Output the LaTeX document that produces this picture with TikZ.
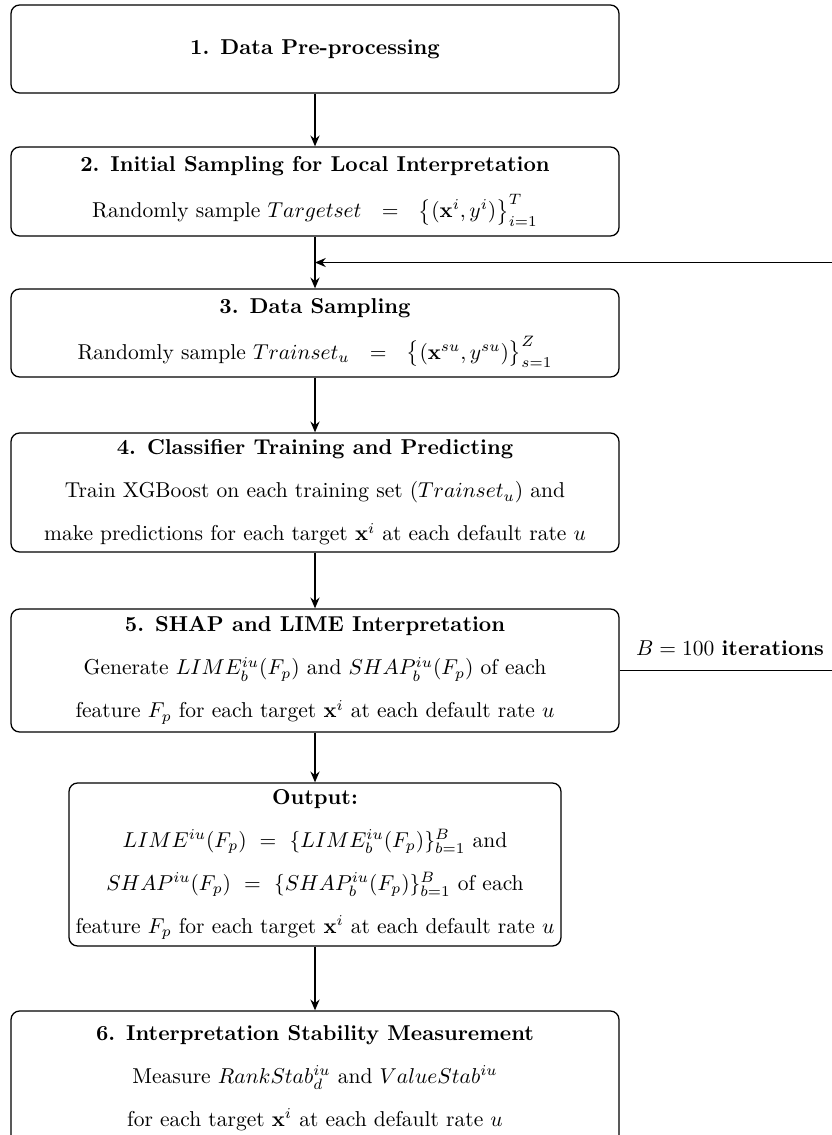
\documentclass[tikz,border=0pt]{standalone}
\usetikzlibrary{arrows.meta}
\newcommand{\pxu}{0.465pt}
\begin{document}
\begin{tikzpicture}[x=0.465pt,y=-0.465pt,
  box/.style={draw, rounded corners=4pt, line width=0.6pt, align=center,
    inner sep=0pt, minimum width=608*\pxu},
  flow/.style={-{Stealth[length=5pt,width=4.2pt]}, line width=0.85pt}]
\useasboundingbox (0,0) rectangle (831,1135);

% process steps
\node[box, minimum height=88*\pxu] (b1) at (315,49)
  {\textbf{1. Data Pre-processing}};
\node[box, minimum height=89*\pxu] (b2) at (315,191.5)
  {\textbf{2. Initial Sampling for Local Interpretation}\\[7.4pt]
   Randomly sample $Targetset\ \ =\ \ \big\{(\mathbf{x}^i,y^i)\big\}_{i=1}^{T}$};
\node[box, minimum height=88*\pxu] (b3) at (315,333)
  {\textbf{3. Data Sampling}\\[7.4pt]
   Randomly sample $Trainset_u\ \ =\ \ \big\{(\mathbf{x}^{su},y^{su})\big\}_{s=1}^{Z}$};
\node[box, minimum height=119*\pxu] (b4) at (315,492.5)
  {\textbf{4. Classifier Training and Predicting}\\[8pt]
   Train XGBoost on each training set ($Trainset_u$) and\\[8pt]
   make predictions for each target $\mathbf{x}^i$ at each default rate $u$};
\node[box, minimum height=123*\pxu] (b5) at (315,670.5)
  {\textbf{5. SHAP and LIME Interpretation}\\[8pt]
   Generate $LIME_b^{iu}(F_p)$ and $SHAP_b^{iu}(F_p)$ of each\\[8pt]
   feature $F_p$ for each target $\mathbf{x}^i$ at each default rate $u$};
\node[box, minimum width=492*\pxu, minimum height=163*\pxu] (b6) at (315,864.5)
  {\textbf{Output:}\\[8pt]
   $LIME^{iu}(F_p)\ =\ \{LIME_b^{iu}(F_p)\}_{b=1}^{B}$ and\\[8pt]
   $SHAP^{iu}(F_p)\ =\ \{SHAP_b^{iu}(F_p)\}_{b=1}^{B}$ of each\\[8pt]
   feature $F_p$ for each target $\mathbf{x}^i$ at each default rate $u$};
\node[box, minimum height=134*\pxu] (b7) at (315,1078)
  {\textbf{6. Interpretation Stability Measurement}\\[8pt]
   Measure $RankStab_d^{iu}$ and $ValueStab^{iu}$\\[8pt]
   for each target $\mathbf{x}^i$ at each default rate $u$};

% main flow
\draw[flow] (b1) -- (b2);
\draw[flow] (b2) -- (b3);
\draw[flow] (b3) -- (b4);
\draw[flow] (b4) -- (b5);
\draw[flow] (b5) -- (b6);
\draw[flow] (b6) -- (b7);

% iteration loop back into the sampling step
\coordinate (join) at (315,262.5);
\coordinate (loopR) at (842,262.5);
\draw[flow] (b5.east) -| (loopR) -- (join);
\node[anchor=base, inner sep=0pt] (iter) at (730,655) {$B=100$ \textbf{iterations}};
\end{tikzpicture}
\end{document}
